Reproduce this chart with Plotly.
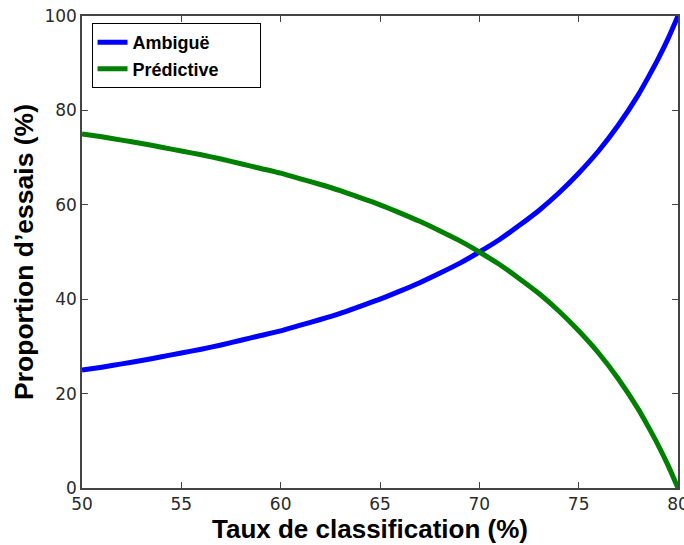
import plotly.graph_objects as go

# Classification rate (%) and the share of trials in each category (%)
taux = [50, 51, 52, 53, 54, 55, 56, 57, 58, 59, 60, 61, 62, 63, 64, 65,
        66, 67, 68, 69, 70, 71, 72, 73, 74, 75, 76, 77, 78, 78.5, 79, 79.5, 80]
ambigue = [25.0, 25.6, 26.3, 27.0, 27.8, 28.6, 29.4, 30.3, 31.3, 32.3, 33.3,
           34.5, 35.7, 37.0, 38.5, 40.0, 41.7, 43.5, 45.5, 47.6, 50.0, 52.6,
           55.6, 58.8, 62.5, 66.7, 71.4, 76.9, 83.3, 87.0, 90.9, 95.2, 100.0]
predictive = [75.0, 74.4, 73.7, 73.0, 72.2, 71.4, 70.6, 69.7, 68.7, 67.7, 66.7,
              65.5, 64.3, 63.0, 61.5, 60.0, 58.3, 56.5, 54.5, 52.4, 50.0, 47.4,
              44.4, 41.2, 37.5, 33.3, 28.6, 23.1, 16.7, 13.0, 9.1, 4.8, 0.0]

pad = "&nbsp;" * 7
fig = go.Figure()
fig.add_trace(go.Scatter(x=taux, y=ambigue, mode="lines", name="<b>Ambiguë</b>",
                         line=dict(color="#0000ff", width=5, shape="spline", smoothing=0.6)))
fig.add_trace(go.Scatter(x=taux, y=predictive, mode="lines", name="<b>Prédictive</b>" + pad,
                         line=dict(color="#008000", width=5, shape="spline", smoothing=0.6)))

tick_font = dict(family="DejaVu Sans", size=17, color="#2a2a2a")

axis_common = dict(showline=True, linecolor="#444444", linewidth=1.5, mirror="ticks",
                   ticks="inside", ticklen=6, tickcolor="#444444", tickwidth=1,
                   showgrid=False, zeroline=False, tickfont=tick_font,
                   ticklabeloverflow="allow", automargin=False)

fig.update_xaxes(range=[50, 80], tickvals=[50, 55, 60, 65, 70, 75, 80], **axis_common)
fig.update_yaxes(range=[0, 100], tickvals=[0, 20, 40, 60, 80, 100],
                 title=dict(text="<b>Proportion d’essais (%)</b>",
                            font=dict(family="Liberation Sans", size=26.5, color="#000000"),
                            standoff=3),
                 **axis_common)

# x-axis title, placed slightly left of the plot centre
fig.add_annotation(text="<b>Taux de classification (%)</b>", xref="paper", yref="paper",
                   x=0.483, y=-0.087, xanchor="center", yanchor="middle", showarrow=False,
                   font=dict(family="Liberation Sans", size=26, color="#000000"))

fig.update_layout(
    width=684, height=545,
    margin=dict(l=82, r=6, t=16, b=57, autoexpand=False),
    paper_bgcolor="white", plot_bgcolor="white",
    legend=dict(x=0.016, y=0.985, xanchor="left", yanchor="top",
                bordercolor="#000000", borderwidth=1, bgcolor="white",
                font=dict(family="Liberation Sans", size=18, color="#000000"),
                itemwidth=30, tracegroupgap=0),
    showlegend=True,
)

fig.write_html("out.html")
